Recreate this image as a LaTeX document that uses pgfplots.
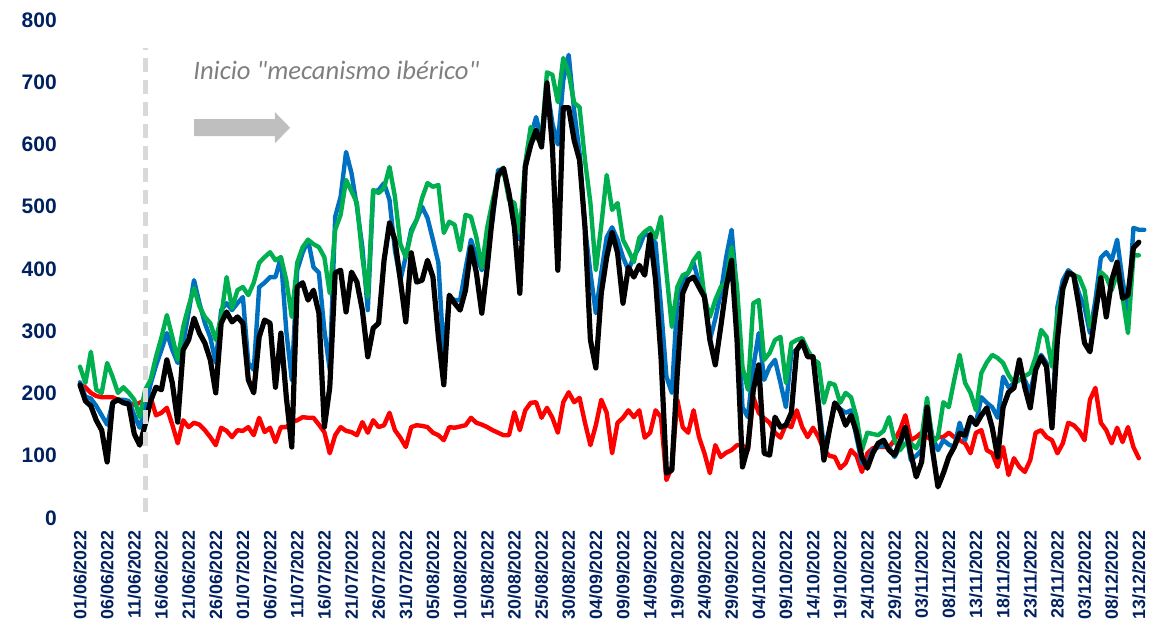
\documentclass[border=0pt]{standalone}
\usepackage{fontspec}
\setmainfont{Liberation Sans}
\newfontfamily\carlito{Carlito}
\usepackage{pgfplots}
\pgfplotsset{compat=1.18}
\definecolor{navy}{HTML}{002060}
\definecolor{sblue}{HTML}{0070C0}
\definecolor{sgreen}{HTML}{00B050}
\definecolor{sred}{HTML}{FF0000}
\definecolor{dgray}{HTML}{D9D9D9}
\definecolor{agray}{HTML}{BFBFBF}
\definecolor{tgray}{HTML}{7F7F7F}
\begin{document}
\begin{tikzpicture}
\useasboundingbox (-37.55pt,-51pt) rectangle (545.45pt,259pt);
\begin{axis}[at={(0,0)}, anchor=south west, scale only axis,
  width=537.3pt, height=249pt,
  xmin=-0.9, xmax=197, ymin=0, ymax=800,
  axis line style={draw=none}, tick style={draw=none},
  ytick={0,100,...,800}, xtick={0,5,...,195},
  xticklabels={01/06/2022,06/06/2022,11/06/2022,16/06/2022,21/06/2022,26/06/2022,01/07/2022,06/07/2022,11/07/2022,16/07/2022,21/07/2022,26/07/2022,31/07/2022,05/08/2022,10/08/2022,15/08/2022,20/08/2022,25/08/2022,30/08/2022,04/09/2022,09/09/2022,14/09/2022,19/09/2022,24/09/2022,29/09/2022,04/10/2022,09/10/2022,14/10/2022,19/10/2022,24/10/2022,29/10/2022,03/11/2022,08/11/2022,13/11/2022,18/11/2022,23/11/2022,28/11/2022,03/12/2022,08/12/2022,13/12/2022},
  /pgf/number format/assume math mode=true,
  yticklabel style={font=\fontsize{10.5}{12}\selectfont\bfseries, text=navy, inner sep=0pt, anchor=east},
  yticklabel shift=9pt,
  xticklabel style={font=\fontsize{8.9}{10}\selectfont\bfseries, text=navy, rotate=90, anchor=east, inner sep=0pt},
  xticklabel shift=6pt,
  clip=false,
  every axis plot/.append style={line join=round, line cap=round, no markers}]
\addplot[sred, line width=2.2pt] coordinates {(0,214)(1,210)(2,201)(3,196)(4,194)(5,194)(6,194)(7,190)(8,188)(9,185)(10,182)(11,185)(12,190)(13,194)(14,165)(15,169)(16,177)(17,150)(18,120)(19,157)(20,146)(21,153)(22,150)(23,141)(24,130)(25,117)(26,145)(27,140)(28,130)(29,141)(30,140)(31,146)(32,133)(33,161)(34,138)(35,145)(36,122)(37,146)(38,146)(39,154)(40,157)(41,162)(42,161)(43,161)(44,150)(45,138)(46,104)(47,133)(48,146)(49,140)(50,138)(51,133)(52,154)(53,137)(54,157)(55,146)(56,149)(57,169)(58,141)(59,129)(60,114)(61,146)(62,149)(63,148)(64,146)(65,137)(66,133)(67,125)(68,146)(69,145)(70,147)(71,149)(72,161)(73,153)(74,150)(75,146)(76,141)(77,137)(78,133)(79,133)(80,170)(81,141)(82,173)(83,185)(84,186)(85,161)(86,177)(87,161)(88,137)(89,186)(90,202)(91,186)(92,193)(93,153)(94,117)(95,149)(96,190)(97,169)(98,104)(99,153)(100,161)(101,173)(102,162)(103,173)(104,129)(105,137)(106,173)(107,162)(108,61)(109,82)(110,190)(111,146)(112,137)(113,173)(114,130)(115,104)(116,72)(117,117)(118,98)(119,105)(120,109)(121,117)(122,117)(123,109)(124,194)(125,169)(126,160)(127,153)(128,137)(129,129)(130,150)(131,146)(132,173)(133,146)(134,130)(135,145)(136,130)(137,109)(138,100)(139,98)(140,80)(141,88)(142,109)(143,100)(144,74)(145,104)(146,112)(147,114)(148,114)(149,114)(150,125)(151,141)(152,165)(153,125)(154,130)(155,137)(156,130)(157,125)(158,130)(159,130)(160,137)(161,130)(162,125)(163,120)(164,104)(165,137)(166,141)(167,109)(168,104)(169,82)(170,114)(171,69)(172,96)(173,82)(174,74)(175,93)(176,137)(177,141)(178,130)(179,125)(180,104)(181,120)(182,153)(183,149)(184,140)(185,125)(186,190)(187,209)(188,153)(189,141)(190,120)(191,145)(192,122)(193,146)(194,114)(195,96)};
\addplot[sblue, line width=2.2pt] coordinates {(0,218)(1,195)(2,192)(3,180)(4,165)(5,150)(6,185)(7,190)(8,190)(9,188)(10,165)(11,145)(12,175)(13,215)(14,245)(15,270)(16,297)(17,270)(18,249)(19,281)(20,330)(21,382)(22,345)(23,313)(24,290)(25,249)(26,334)(27,345)(28,334)(29,345)(30,355)(31,249)(32,238)(33,371)(34,378)(35,387)(36,387)(37,419)(38,300)(39,222)(40,398)(41,426)(42,447)(43,403)(44,394)(45,302)(46,238)(47,484)(48,516)(49,588)(50,554)(51,500)(52,435)(53,334)(54,524)(55,527)(56,538)(57,511)(58,430)(59,382)(60,420)(61,463)(62,479)(63,500)(64,482)(65,447)(66,410)(67,259)(68,355)(69,350)(70,350)(71,400)(72,447)(73,420)(74,398)(75,440)(76,479)(77,559)(78,560)(79,520)(80,470)(81,447)(82,560)(83,612)(84,644)(85,607)(86,692)(87,634)(88,600)(89,703)(90,744)(91,655)(92,586)(93,467)(94,394)(95,329)(96,394)(97,451)(98,467)(99,447)(100,419)(101,398)(102,420)(103,435)(104,458)(105,451)(106,442)(107,339)(108,227)(109,201)(110,350)(111,382)(112,394)(113,410)(114,378)(115,360)(116,286)(117,320)(118,361)(119,419)(120,463)(121,361)(122,178)(123,162)(124,243)(125,297)(126,222)(127,243)(128,254)(129,217)(130,178)(131,265)(132,270)(133,281)(134,262)(135,259)(136,190)(137,114)(138,140)(139,185)(140,175)(141,169)(142,173)(143,130)(144,88)(145,88)(146,109)(147,114)(148,117)(149,114)(150,98)(151,114)(152,146)(153,93)(154,100)(155,109)(156,178)(157,130)(158,109)(159,125)(160,118)(161,114)(162,153)(163,125)(164,157)(165,153)(166,194)(167,185)(168,178)(169,161)(170,227)(171,210)(172,216)(173,222)(174,222)(175,201)(176,243)(177,262)(178,249)(179,145)(180,339)(181,382)(182,398)(183,390)(184,360)(185,339)(186,297)(187,350)(188,418)(189,427)(190,414)(191,447)(192,382)(193,329)(194,466)(195,463)(196,463)};
\addplot[sgreen, line width=2.2pt] coordinates {(0,243)(1,217)(2,267)(3,206)(4,201)(5,249)(6,227)(7,201)(8,210)(9,201)(10,190)(11,162)(12,206)(13,222)(14,259)(15,290)(16,326)(17,291)(18,254)(19,307)(20,340)(21,369)(22,340)(23,323)(24,313)(25,286)(26,323)(27,387)(28,337)(29,366)(30,371)(31,358)(32,378)(33,410)(34,419)(35,427)(36,414)(37,419)(38,382)(39,323)(40,410)(41,435)(42,447)(43,440)(44,435)(45,419)(46,361)(47,463)(48,487)(49,543)(50,525)(51,506)(52,419)(53,355)(54,527)(55,522)(56,530)(57,564)(58,516)(59,440)(60,419)(61,458)(62,479)(63,514)(64,538)(65,532)(66,535)(67,458)(68,476)(69,471)(70,430)(71,487)(72,484)(73,451)(74,402)(75,467)(76,510)(77,548)(78,559)(79,511)(80,506)(81,458)(82,570)(83,628)(84,610)(85,607)(86,716)(87,712)(88,668)(89,739)(90,715)(91,667)(92,660)(93,575)(94,506)(95,398)(96,470)(97,551)(98,495)(99,506)(100,447)(101,430)(102,411)(103,450)(104,460)(105,466)(106,450)(107,484)(108,394)(109,307)(110,371)(111,390)(112,394)(113,414)(114,426)(115,355)(116,323)(117,350)(118,371)(119,378)(120,435)(121,371)(122,243)(123,206)(124,345)(125,350)(126,254)(127,265)(128,286)(129,291)(130,217)(131,281)(132,286)(133,289)(134,270)(135,255)(136,249)(137,185)(138,217)(139,214)(140,185)(141,201)(142,194)(143,162)(144,109)(145,137)(146,135)(147,133)(148,140)(149,162)(150,125)(151,109)(152,120)(153,120)(154,112)(155,130)(156,193)(157,120)(158,130)(159,186)(160,178)(161,222)(162,262)(163,217)(164,201)(165,173)(166,233)(167,250)(168,262)(169,257)(170,249)(171,230)(172,217)(173,222)(174,228)(175,233)(176,259)(177,302)(178,291)(179,243)(180,329)(181,366)(182,395)(183,390)(184,387)(185,366)(186,307)(187,329)(188,395)(189,387)(190,366)(191,394)(192,355)(193,297)(194,422)(195,422)};
\addplot[black, line width=2.6pt] coordinates {(0,214)(1,188)(2,180)(3,157)(4,141)(5,90)(6,185)(7,190)(8,185)(9,183)(10,135)(11,117)(12,150)(13,188)(14,210)(15,206)(16,254)(17,217)(18,154)(19,270)(20,286)(21,321)(22,297)(23,281)(24,254)(25,201)(26,313)(27,331)(28,315)(29,323)(30,313)(31,222)(32,201)(33,291)(34,318)(35,313)(36,210)(37,297)(38,194)(39,114)(40,371)(41,378)(42,350)(43,366)(44,329)(45,146)(46,210)(47,394)(48,398)(49,331)(50,395)(51,379)(52,334)(53,259)(54,305)(55,313)(56,414)(57,474)(58,447)(59,382)(60,315)(61,426)(62,379)(63,382)(64,414)(65,387)(66,291)(67,214)(68,358)(69,345)(70,334)(71,366)(72,435)(73,394)(74,329)(75,403)(76,490)(77,551)(78,562)(79,522)(80,467)(81,361)(82,564)(83,599)(84,623)(85,596)(86,699)(87,596)(88,398)(89,659)(90,659)(91,607)(92,575)(93,467)(94,286)(95,241)(96,361)(97,419)(98,459)(99,426)(100,345)(101,403)(102,387)(103,406)(104,390)(105,455)(106,382)(107,259)(108,72)(109,77)(110,233)(111,361)(112,382)(113,387)(114,371)(115,355)(116,286)(117,246)(118,307)(119,371)(120,414)(121,286)(122,82)(123,114)(124,206)(125,246)(126,104)(127,101)(128,162)(129,146)(130,149)(131,169)(132,270)(133,283)(134,259)(135,259)(136,178)(137,93)(138,141)(139,185)(140,173)(141,149)(142,165)(143,138)(144,98)(145,80)(146,104)(147,120)(148,125)(149,109)(150,101)(151,122)(152,146)(153,104)(154,66)(155,90)(156,178)(157,109)(158,50)(159,72)(160,98)(161,114)(162,136)(163,133)(164,162)(165,150)(166,165)(167,177)(168,145)(169,98)(170,178)(171,202)(172,209)(173,254)(174,210)(175,177)(176,238)(177,259)(178,243)(179,145)(180,286)(181,369)(182,394)(183,390)(184,339)(185,281)(186,267)(187,329)(188,386)(189,323)(190,382)(191,411)(192,353)(193,358)(194,434)(195,443)};
\draw[dgray, line width=2.5pt, dash pattern=on 7pt off 4pt] (axis cs:12,10) -- (axis cs:12,755);
\fill[agray] (axis cs:21,613.3) -- (axis cs:35.9,613.3) -- (axis cs:35.9,602) -- (axis cs:38.7,627) -- (axis cs:35.9,652) -- (axis cs:35.9,640.7) -- (axis cs:21,640.7) -- cycle;
\node[anchor=base west, text=tgray, font=\carlito\itshape\fontsize{13.3}{15}\selectfont, inner sep=0pt] at (axis cs:20.8,705) {Inicio "mecanismo ibérico"};
\end{axis}
\end{tikzpicture}
\end{document}
